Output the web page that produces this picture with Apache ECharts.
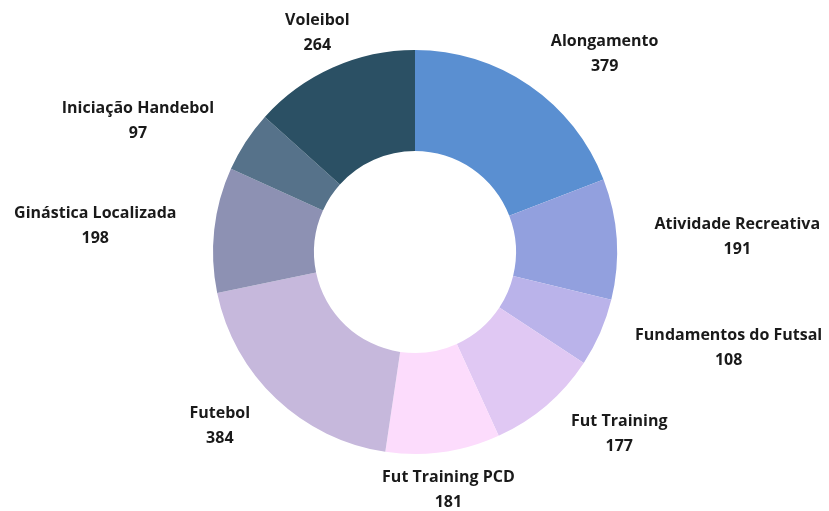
<!DOCTYPE html>
<html>
<head>
<meta charset="utf-8">
<script src="https://cdn.jsdelivr.net/npm/echarts@6/dist/echarts.min.js"></script>
<style>
    html, body { margin: 0; padding: 0; background: #fff; }
    #chart { width: 829px; height: 511px; }
</style>
</head>
<body>
<div id="chart"></div>
<script>
// dados do gráfico
const categories = ['Alongamento', 'Atividade Recreativa', 'Fundamentos do Futsal', 'Fut Training',
    'Fut Training PCD', 'Futebol', 'Ginástica Localizada', 'Iniciação Handebol', 'Voleibol']
const values = [379, 191, 108, 177, 181, 384, 198, 97, 264]
const colors = ['#5a8fd1', '#92a0de', '#bab3ea', '#e0c8f3', '#fcdcfc', '#c6b8dc', '#8d91b3', '#56728a', '#2b5064']

// rótulos centralizados (perto do topo / fundo)
const centered = ['Voleibol', 'Fut Training PCD']

const myChart = echarts.init(document.getElementById('chart'))

const option = {
    color: colors,
    series: [{
        type: 'pie',
        center: [415, 252],
        radius: [101, 202],
        startAngle: 90,
        clockwise: true,
        avoidLabelOverlap: false,
        data: categories.map((name, i) => ({ name: name, value: values[i] })),
        label: {
            show: true,
            position: 'outside',
            distanceToLabelLine: 0,
            formatter: '{a|{b}}\n{a|{c}}',
            rich: {
                a: {
                    align: 'center',
                    fontFamily: 'Open Sans',
                    fontWeight: 'bold',
                    fontSize: 16,
                    lineHeight: 25,
                    color: '#1a1a1a'
                }
            }
        },
        labelLine: {
            show: false,
            length: 38,
            length2: 0
        },
        labelLayout: function (params) {
            const name = categories[params.dataIndex]
            if (centered.indexOf(name) >= 0) {
                return { align: 'center' }
            }
            return {}
        },
        emphasis: { disabled: true }
    }]
}
myChart.setOption(option)
</script>
</body>
</html>
